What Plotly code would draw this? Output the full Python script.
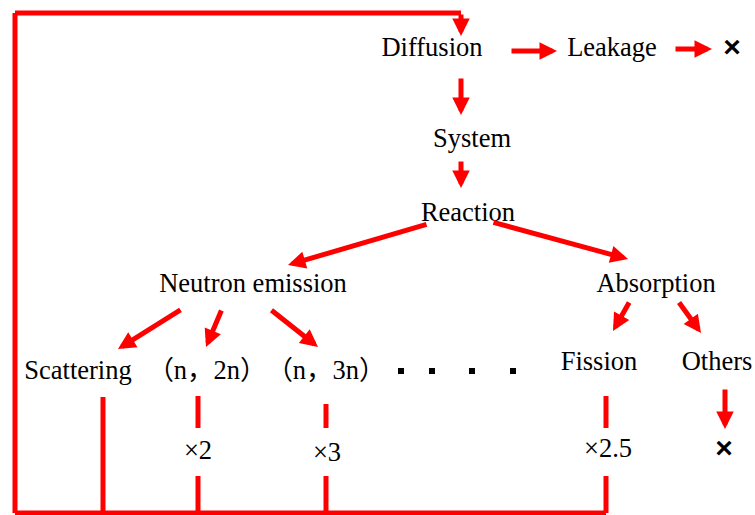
import plotly.graph_objects as go

# node labels and their centres (pixel-like coordinates, y grows downward)
labels = ["Diffusion", "Leakage", "System", "Reaction", "Neutron emission", "Absorption",
          "Scattering", "（n，2n）", "（n，3n）", "Fission", "Others"]
label_x = [432, 612, 472, 468, 253, 656, 78, 207, 326, 599, 717]
label_y = [49, 49, 140, 214, 285, 285, 372, 372, 372, 363, 363]

# neutron multiplicity marks
mult_labels = ["×2", "×3", "×2.5"]
mult_x = [198, 327, 608]
mult_y = [452, 454, 450]

# terminal "lost" markers
lost_x = [732, 724]
lost_y = [49, 450]

# ellipsis dots
dots_x = [401, 432, 472, 513]
dots_y = [371, 371, 371, 371]

# arrows: tail -> head
arrow_x0 = [461, 510, 674, 461, 461, 428, 492, 182, 222, 270, 630, 678, 725]
arrow_y0 = [13, 51, 49, 77, 160, 224, 222, 309, 309, 309, 301, 301, 388]
arrow_x1 = [461, 557, 712, 461, 461, 288, 628, 118, 206, 318, 613, 701, 725]
arrow_y1 = [36, 51, 49, 115, 188, 265, 259, 349, 347, 347, 331, 333, 429]

# feedback lines (segments)
seg_x0 = [15, 15, 15, 103, 198, 198, 326, 326, 606, 606]
seg_y0 = [13, 13, 513, 397, 396, 476, 404, 476, 396, 476]
seg_x1 = [461, 15, 606, 103, 198, 198, 326, 326, 606, 606]
seg_y1 = [13, 513, 513, 513, 428, 513, 428, 513, 428, 513]

RED = "#ff0000"
SERIF = "Liberation Serif, Times New Roman, Noto Sans CJK SC, serif"

fig = go.Figure()

fig.add_trace(go.Scatter(x=label_x, y=label_y, mode="text", text=labels,
                         textfont=dict(family=SERIF, size=26.5, color="#000"),
                         hoverinfo="skip"))
fig.add_trace(go.Scatter(x=mult_x, y=mult_y, mode="text", text=mult_labels,
                         textfont=dict(family=SERIF, size=26.5, color="#000"),
                         hoverinfo="skip"))
fig.add_trace(go.Scatter(x=lost_x, y=lost_y, mode="text", text=["<b>×</b>", "<b>×</b>"],
                         textfont=dict(family="Liberation Sans, Arial", size=30, color="#000"),
                         hoverinfo="skip"))
fig.add_trace(go.Scatter(x=dots_x, y=dots_y, mode="markers",
                         marker=dict(symbol="square", size=6, color="#000"),
                         hoverinfo="skip"))

for x0, y0, x1, y1 in zip(seg_x0, seg_y0, seg_x1, seg_y1):
    fig.add_shape(type="line", x0=x0, y0=y0, x1=x1, y1=y1, xref="x", yref="y",
                  line=dict(color=RED, width=5))

for x0, y0, x1, y1 in zip(arrow_x0, arrow_y0, arrow_x1, arrow_y1):
    fig.add_annotation(x=x1, y=y1, ax=x0, ay=y0, xref="x", yref="y", axref="x", ayref="y",
                       text="", showarrow=True, arrowhead=2, arrowsize=0.7,
                       arrowwidth=5, arrowcolor=RED, standoff=0, startstandoff=0)

fig.update_layout(width=755, height=515, margin=dict(l=0, r=0, t=0, b=0),
                  plot_bgcolor="white", paper_bgcolor="white", showlegend=False,
                  xaxis=dict(range=[0, 755], visible=False, fixedrange=True),
                  yaxis=dict(range=[515, 0], visible=False, fixedrange=True))

# drop the default 8px page margin so the figure fills the window
fig.write_html("out.html", config={"displayModeBar": False},
               post_script="document.body.style.margin='0';")
